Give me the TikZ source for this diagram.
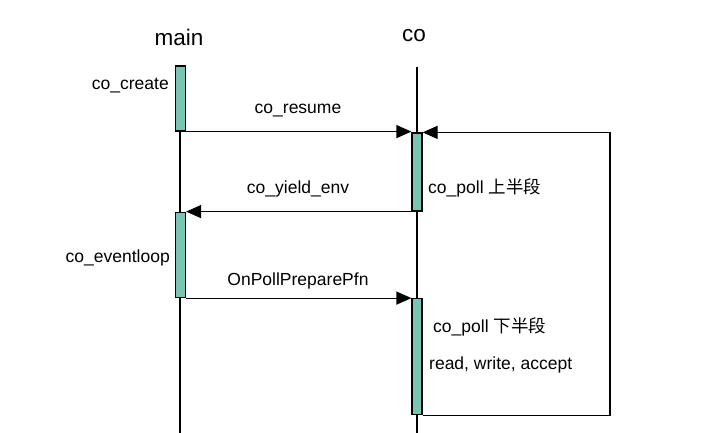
\documentclass[tikz,border=0pt]{standalone}
\usepackage{fontspec}
\setmainfont{Liberation Sans}
\newfontfamily\cjk{Noto Sans CJK SC}
\usetikzlibrary{arrows.meta}
\definecolor{actbox}{RGB}{122,196,180}
\tikzset{
	act/.style={draw, line width=1.2pt, fill=actbox, minimum width=10pt, inner sep=0pt},
	msg/.style={line width=1.2pt, -{Triangle[length=15pt,width=13pt]}},
	life/.style={line width=1.1pt},
	lbl/.style={font=\fontsize{17.5}{20}\selectfont, inner sep=0pt},
	head/.style={font=\fontsize{22.5}{26}\selectfont, inner sep=0pt}
}
\begin{document}
\begin{tikzpicture}[x=1pt, y=-1pt]
		\useasboundingbox (0,0) rectangle (711,433);
		\node[head] (mainT) at (179,37) {main};
		\node[head] (coT) at (414,36) {co};

		\coordinate (mainTop) at (180,66);
		\coordinate (mainBot) at (180,433);
		\coordinate (coTop) at (417,67);
		\coordinate (coBot) at (417,433);
		\draw[life] (mainTop) -- (mainBot);
		\draw[life] (coTop) -- (coBot);

		\node[act, minimum height=65pt] (mainA) at (180.5,98.5) {};
		\node[act, minimum height=78pt] (coA) at (417,172) {};
		\node[act, minimum height=85pt] (mainB) at (180.5,255) {};
		\node[act, minimum height=116pt] (coB) at (417,356.5) {};

		\coordinate (loopR) at (610,132);
		\draw[msg] (mainA.south east) -- (mainA.south east -| coA.west);
		\draw[msg] (coB.south east) -- (coB.south east -| loopR) |- (coA.north east);
		\draw[msg] (coA.south west) -- (coA.south west -| mainB.east);
		\draw[msg] (mainB.south east) -- (mainB.south east -| coB.west);

		\node[lbl, anchor=east] (create) at (169,86) {co\_create};
		\node[lbl] (resume) at (298,111) {co\_resume};
		\node[lbl] (yield) at (298,189) {co\_yield\_env};
		\node[lbl, anchor=west] (pollUp) at (428,188) {co\_poll {\cjk 上半段}};
		\node[lbl, anchor=east] (loop) at (170,258) {co\_eventloop};
		\node[lbl] (prepare) at (298,281) {OnPollPreparePfn};
		\node[lbl, anchor=west] (pollDown) at (433,327) {co\_poll {\cjk 下半段}};
		\node[lbl, anchor=west] (rwa) at (429,365) {read, write, accept};
	\end{tikzpicture}
\end{document}
